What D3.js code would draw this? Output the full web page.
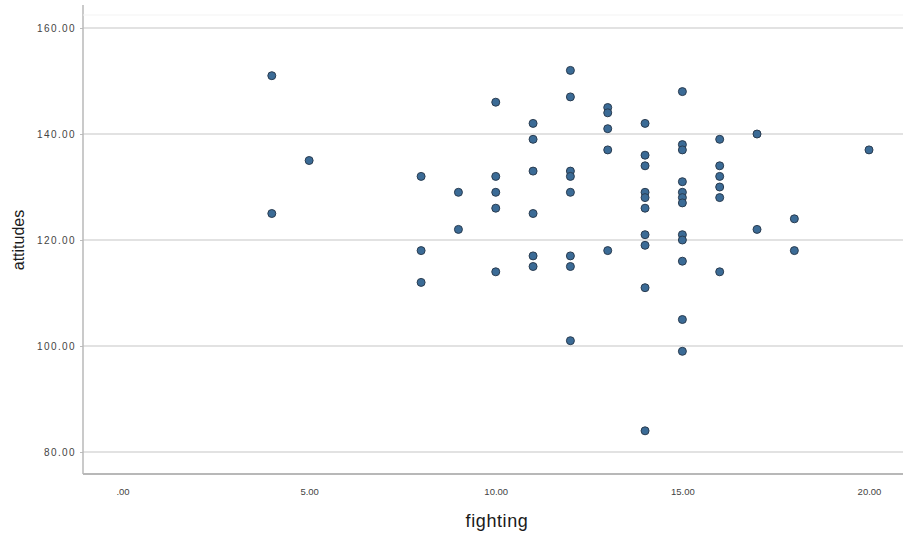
<!DOCTYPE html>
<html>
<head>
<meta charset="utf-8">
<script src="https://cdn.jsdelivr.net/npm/d3@7"></script>
<style>
  html, body { margin: 0; padding: 0; background: #ffffff; }
  svg { display: block; font-family: "Liberation Sans", Arial, sans-serif; }
</style>
</head>
<body>
<svg id="chart" width="903" height="536"></svg>
<script>
// ---- data ----
const fighting = [
  4, 4,
  5,
  8, 8, 8,
  9, 9,
  10, 10, 10, 10, 10,
  11, 11, 11, 11, 11, 11,
  12, 12, 12, 12, 12, 12, 12, 12,
  13, 13, 13, 13, 13,
  14, 14, 14, 14, 14, 14, 14, 14, 14, 14,
  15, 15, 15, 15, 15, 15, 15, 15, 15, 15, 15, 15,
  16, 16, 16, 16, 16, 16,
  17, 17,
  18, 18,
  20
];
const attitudes = [
  151, 125,
  135,
  132, 118, 112,
  129, 122,
  146, 132, 129, 126, 114,
  142, 139, 133, 125, 117, 115,
  152, 147, 133, 132, 129, 117, 115, 101,
  145, 144, 141, 137, 118,
  142, 136, 134, 129, 128, 126, 121, 119, 111, 84,
  148, 138, 137, 131, 129, 128, 127, 121, 120, 116, 105, 99,
  139, 134, 132, 130, 128, 114,
  140, 122,
  124, 118,
  137
];
const xTicks = [0, 5, 10, 15, 20];
const xTickLabels = [".00", "5.00", "10.00", "15.00", "20.00"];
const yTicks = [80, 100, 120, 140, 160];
const yTickLabels = ["80.00", "100.00", "120.00", "140.00", "160.00"];
const xTitle = "fighting";
const yTitle = "attitudes";

// ---- layout ----
const svg = d3.select("#chart");
const plotLeft = 83, plotRight = 903, plotTop = 5, plotBottom = 474;

const x = d3.scaleLinear().domain([0, 20]).range([122.5, 869]);
const y = d3.scaleLinear().domain([80, 160]).range([452, 28]);

// gridlines
svg.append("g")
  .selectAll("line")
  .data(yTicks)
  .join("line")
  .attr("x1", plotLeft).attr("x2", plotRight)
  .attr("y1", d => y(d)).attr("y2", d => y(d))
  .attr("stroke", "#d9d9d9")
  .attr("stroke-width", 1.5);

// y axis (ticks + labels)
const yAxis = d3.axisLeft(y)
  .tickValues(yTicks)
  .tickFormat((d, i) => yTickLabels[i])
  .tickSize(3)
  .tickPadding(4);
const gy = svg.append("g").attr("transform", `translate(${plotLeft},0)`).call(yAxis);
gy.select(".domain").remove();
gy.selectAll(".tick line").attr("stroke", "#bdbdbd");
gy.selectAll(".tick text")
  .attr("fill", "#444")
  .style("font-size", "10px")
  .style("letter-spacing", "1.4px")
  .style("font-family", "'Liberation Sans', Arial, sans-serif");

// x axis (labels)
const xAxis = d3.axisBottom(x)
  .tickValues(xTicks)
  .tickFormat((d, i) => xTickLabels[i])
  .tickSize(0)
  .tickPadding(14);
const gx = svg.append("g").attr("transform", `translate(0,${plotBottom})`).call(xAxis);
gx.select(".domain").remove();
gx.selectAll(".tick text")
  .attr("fill", "#444")
  .style("font-size", "9.5px")
  .style("font-family", "'Liberation Sans', Arial, sans-serif");

// frame lines
svg.append("line")
  .attr("x1", plotLeft).attr("x2", plotLeft)
  .attr("y1", plotTop).attr("y2", plotBottom)
  .attr("stroke", "#b8b8b8").attr("stroke-width", 1.5);
svg.append("line")
  .attr("x1", plotLeft).attr("x2", plotRight)
  .attr("y1", plotBottom).attr("y2", plotBottom)
  .attr("stroke", "#b8b8b8").attr("stroke-width", 2);
svg.append("line")
  .attr("x1", plotLeft).attr("x2", plotRight)
  .attr("y1", 15).attr("y2", 15)
  .attr("stroke", "#f3f3f3").attr("stroke-width", 1);

// points
const pts = fighting.map((f, i) => ({ f, a: attitudes[i] }));
svg.append("g")
  .selectAll("circle")
  .data(pts)
  .join("circle")
  .attr("cx", d => x(d.f))
  .attr("cy", d => y(d.a))
  .attr("r", 4)
  .attr("fill", "#3b6b96")
  .attr("stroke", "#2a3c50")
  .attr("stroke-width", 1);

// axis titles
svg.append("text")
  .attr("x", 497).attr("y", 527)
  .attr("text-anchor", "middle")
  .attr("fill", "#1a1a1a")
  .style("font-size", "18px")
  .style("letter-spacing", "0.6px")
  .text(xTitle);
svg.append("text")
  .attr("transform", "translate(24,240) rotate(-90)")
  .attr("text-anchor", "middle")
  .attr("fill", "#1a1a1a")
  .style("font-size", "16px")
  .text(yTitle);
</script>
</body>
</html>
